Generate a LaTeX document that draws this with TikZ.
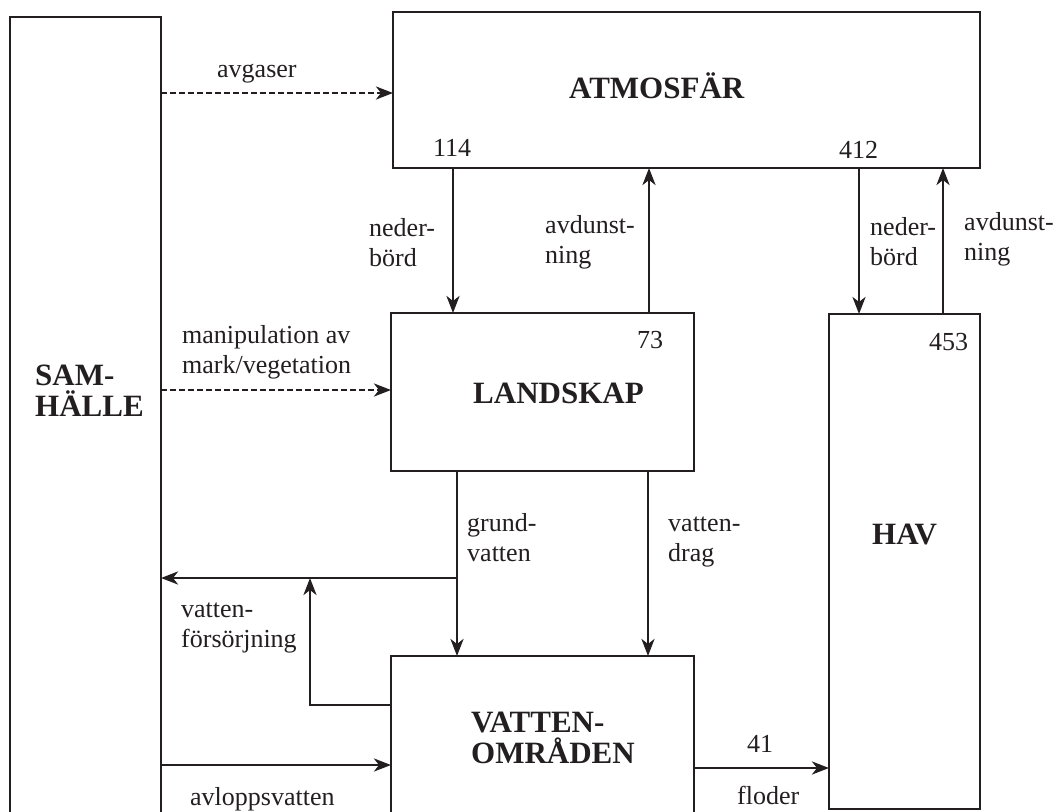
\documentclass[tikz,border=0pt]{standalone}
\usepackage{fontspec}
\setmainfont{Liberation Serif}
\usetikzlibrary{arrows.meta}
\definecolor{ink}{HTML}{231F20}
\newcommand\twol[2]{\begin{tabular}[t]{@{}l@{}}\smash{#1}\\\smash{#2}\end{tabular}}
\begin{document}
\begin{tikzpicture}[x=1pt,y=-1pt,
  box/.style={draw=ink, line width=2.8pt, rectangle, inner sep=0pt, outer sep=0pt, anchor=north west},
  arr/.style={draw=ink, line width=2.7pt, -{Stealth[length=17pt,width=13pt,inset=5pt]}},
  dsh/.style={dash pattern=on 5.5pt off 3.5pt},
  lbl/.style={font=\fontsize{26}{30}\selectfont, text=ink, inner sep=0pt, anchor=base west},
  bt/.style={font=\fontsize{31}{31}\selectfont\bfseries, text=ink, inner sep=0pt, anchor=base west}]
\clip (0,0) rectangle (1054,811);
\fill[white] (0,0) rectangle (1054,811);
% boxes
\node[box, minimum width=151pt, minimum height=900pt] (sam) at (10,17) {};
\node[box, minimum width=587pt, minimum height=156pt] (atm) at (393,12) {};
\node[box, minimum width=303pt, minimum height=158pt] (land) at (391,313) {};
\node[box, minimum width=151pt, minimum height=495pt] (hav) at (829,314) {};
\node[box, minimum width=303pt, minimum height=250pt] (vat) at (391,656) {};
% box titles
\node[bt] (tatm) at (569,98) {ATMOSFÄR};
\node[bt] (tland) at (473,403) {LANDSKAP};
\node[bt] (tvat) at (471,732) {\twol{VATTEN-}{OMRÅDEN}};
\node[bt] (tsam) at (35,385) {\twol{SAM-}{HÄLLE}};
\node[bt] (thav) at (872,544) {HAV};
% numbers
\node[lbl] (n114) at (433,156) {114};
\node[lbl] (n412) at (839,158) {412};
\node[lbl] (n73) at (637,348) {73};
\node[lbl] (n453) at (929,350) {453};
\node[lbl] (n41) at (747,752) {41};
% connectors
\draw[arr,dsh] ([yshift=-76pt]sam.north east) coordinate (a1) -- (a1 -| atm.west);
\draw[arr,dsh] ([yshift=-373pt]sam.north east) coordinate (a2) -- (a2 -| land.west);
\draw[arr] ([xshift=60pt]atm.south west) coordinate (n1) -- (n1 |- land.north);
\draw[arr] ([xshift=258pt]land.north west) coordinate (e1) -- (e1 |- atm.south);
\path ([xshift=30pt]hav.north west) coordinate (n2);
\draw[arr] (n2 |- atm.south) -- (n2);
\draw[arr] ([xshift=114pt]hav.north west) coordinate (e2) -- (e2 |- atm.south);
\draw[arr] ([xshift=66pt]land.south west) coordinate (g1) -- (g1 |- vat.north);
\draw[arr] ([xshift=257pt]land.south west) coordinate (v1) -- (v1 |- vat.north);
\draw[arr] ([yshift=-107pt]g1) coordinate (g2) -- (g2 -| sam.east);
\draw[arr] ([yshift=-49pt]vat.north west) -| ([xshift=-147pt]g2);
\draw[arr] ([yshift=-748pt]sam.north east) coordinate (a3) -- (a3 -| vat.west);
\draw[arr] ([yshift=-112pt]vat.north east) coordinate (f1) -- (f1 -| hav.west);
% labels
\node[lbl] (lavg) at (217,77) {avgaser};
\node[lbl] (lman) at (182,343) {\twol{manipulation av}{mark/vegetation}};
\node[lbl] (lned1) at (369,236) {\twol{neder-}{börd}};
\node[lbl] (lavd1) at (545,233) {\twol{avdunst-}{ning}};
\node[lbl] (lned2) at (870,235) {\twol{neder-}{börd}};
\node[lbl] (lavd2) at (964,230) {\twol{avdunst-}{ning}};
\node[lbl] (lgru) at (467,531) {\twol{grund-}{vatten}};
\node[lbl] (lvdr) at (668,531) {\twol{vatten-}{drag}};
\node[lbl] (lvf) at (181,617) {\twol{vatten-}{försörjning}};
\node[lbl] (lavl) at (190,805) {avloppsvatten};
\node[lbl] (lflo) at (737,804) {floder};
\end{tikzpicture}
\end{document}
